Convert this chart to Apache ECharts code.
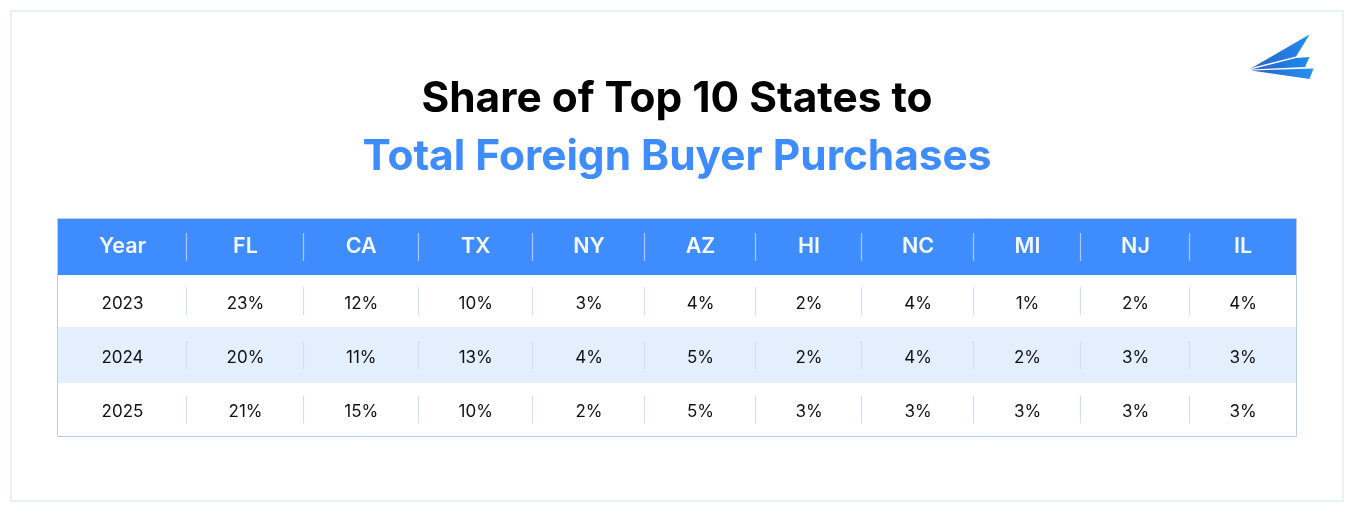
<!DOCTYPE html>
<html>
<head>
<meta charset="utf-8">
<style>html,body{margin:0;padding:0;background:#fff}#c{width:1354px;height:512px}</style>
<script src="https://cdn.jsdelivr.net/npm/echarts@6/dist/echarts.min.js"></script>
</head>
<body>
<div id="c"></div>
<script>
const headers = ['Year','FL','CA','TX','NY','AZ','HI','NC','MI','NJ','IL'];
const years = [2023, 2024, 2025];
const share2023 = [23,12,10,3,4,2,4,1,2,4];
const share2024 = [20,11,13,4,5,2,4,2,3,3];
const share2025 = [21,15,10,2,5,3,3,3,3,3];

const columnEdges = [58,187,304,418.5,533,645,756,862,974,1081,1190,1296];
const rowEdges = [219,275,327,383,436];
const rowFill = ['#3f8cff','#ffffff','#e4effe','#ffffff'];

const rows = [headers];
[share2023, share2024, share2025].forEach((vals, i) => {
  rows.push([String(years[i])].concat(vals.map(v => v + '%')));
});

const cells = [];
rows.forEach((row, r) => row.forEach((t, c) => cells.push([c, r, t])));

function renderCell(params, api) {
  const c = api.value(0), r = api.value(1), t = api.value(2);
  const p0 = api.coord([columnEdges[c], rowEdges[r]]);
  const p1 = api.coord([columnEdges[c + 1], rowEdges[r + 1]]);
  const head = r === 0;
  const x0 = Math.round(p0[0]), x1 = Math.round(p1[0]);
  const children = [{
    type: 'rect',
    shape: {x: x0, y: p0[1], width: x1 - x0, height: p1[1] - p0[1]},
    style: {fill: rowFill[r]}
  }];
  if (c > 0) {
    const ym = (p0[1] + p1[1]) / 2;
    const sx = Math.floor(p0[0] - 0.01) + 0.5;
    children.push({
      type: 'line',
      z2: 5,
      shape: {x1: sx, y1: ym - 14, x2: sx, y2: ym + 14},
      style: {stroke: head ? '#a9cbfb' : '#d3dfeb', lineWidth: 1.2}
    });
  }
  children.push({
    type: 'text',
    z2: 6,
    style: {
      x: (p0[0] + p1[0]) / 2, y: (p0[1] + p1[1]) / 2 + (head ? 0 : 2.5),
      text: t, align: 'center', verticalAlign: 'middle',
      fontFamily: 'Inter', fontSize: head ? 21.5 : 17,
      fontWeight: head ? 600 : 400,
      fill: head ? '#f4f8ff' : '#111111'
    }
  });
  return {type: 'group', children};
}

const blade = (pts, c0, c1) => ({
  type: 'polygon',
  shape: {points: pts},
  style: {fill: new echarts.graphic.LinearGradient(0, 0, 1, 0, [
    {offset: 0, color: c0}, {offset: 1, color: c1}])}
});

const chart = echarts.init(document.getElementById('c'), null, {renderer: 'canvas'});
chart.setOption({
  animation: false,
  backgroundColor: '#ffffff',
  title: [
    {text: 'Share of Top 10 States to', left: 672, top: 67, textAlign: 'center',
     textStyle: {fontFamily: 'Inter', fontSize: 42.4, fontWeight: 700, color: '#000000', lineHeight: 54}},
    {text: 'Total Foreign Buyer Purchases', left: 672, top: 125, textAlign: 'center',
     textStyle: {fontFamily: 'Inter', fontSize: 42.4, fontWeight: 700, color: '#3f8cff', lineHeight: 54}}
  ],
  grid: {left: 0, right: 0, top: 0, bottom: 0},
  xAxis: {type: 'value', min: 0, max: 1354, show: false},
  yAxis: {type: 'value', min: 0, max: 512, inverse: true, show: false},
  series: [{
    type: 'custom',
    coordinateSystem: 'cartesian2d',
    renderItem: renderCell,
    data: cells,
    clip: false,
    silent: true
  }],
  graphic: [
    {type: 'rect', z: -1, shape: {x: 11, y: 11, width: 1332, height: 490},
     style: {fill: '#ffffff', stroke: '#e9f1f9', lineWidth: 2}},
    {type: 'rect', z: 10, shape: {x: 57.5, y: 218.5, width: 1239, height: 218},
     style: {fill: 'none', stroke: '#b9cde6', lineWidth: 1}},
    blade([[1249,69.5],[1309.5,34.5],[1296,56.5],[1255,67]], '#2f62c4', '#1f8bf0'),
    blade([[1251,69.5],[1296,58],[1309.5,57],[1305,67]], '#2a5fc0', '#1f8bf0'),
    blade([[1251,70.5],[1313.5,68.5],[1309.5,79]], '#2d5fc0', '#2393f3')
  ]
});
</script>
</body>
</html>
